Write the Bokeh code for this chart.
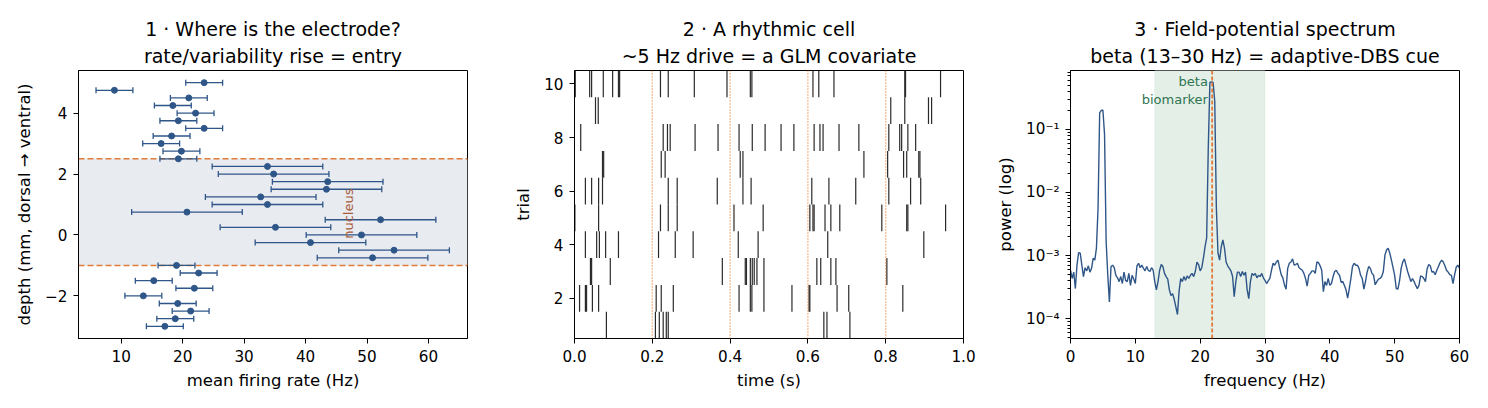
import numpy as np
from bokeh.plotting import figure
from bokeh.layouts import row
from bokeh.models import (ColumnDataSource, Whisker, TeeHead, BoxAnnotation, Span, Label, Title,
                          FixedTicker, Range1d, CustomJSTickFormatter, PrintfTickFormatter)
from bokeh.embed import file_html
from bokeh.resources import INLINE

FONT = "DejaVu Sans"
BLUE = "#2f5688"
ORANGE = "#e07b39"
DOT_ORANGE = "#e8731f"
TITLE_SIZE = "19px"
LABEL_SIZE = "16.5px"
TICK_SIZE = "15.2px"
NOTE_SIZE = "13px"

# ---------------- Panel 1 data ----------------
depth_mm = [5.0, 4.75, 4.5, 4.25, 4.0, 3.75, 3.5, 3.25, 3.0, 2.75, 2.5,
            2.25, 2.0, 1.75, 1.5, 1.25, 1.0, 0.75, 0.5, 0.25, 0.0, -0.25, -0.5, -0.75,
            -1.0, -1.25, -1.5, -1.75, -2.0, -2.25, -2.5, -2.75, -3.0]
rate_hz = [23.5, 8.9, 21.0, 18.4, 22.1, 19.3, 23.5, 18.2, 16.5, 19.8, 19.3,
           33.8, 34.8, 43.6, 43.4, 32.7, 33.8, 20.7, 52.2, 35.1, 49.1, 40.8, 54.4, 50.9,
           19.0, 22.6, 15.3, 21.9, 13.6, 19.2, 21.3, 18.8, 17.1]
rate_err = [3.0] * 11 + [9.0] * 13 + [3.0] * 9
nucleus_top = 2.5
nucleus_bottom = -1.0

# ---------------- Panel 2 data (spike times, s) ----------------
trial_1 = [0.082, 0.208, 0.218, 0.228, 0.236, 0.241, 0.641, 0.649, 0.708]
trial_2 = [0.013, 0.028, 0.031, 0.046, 0.062, 0.210, 0.223, 0.254, 0.423, 0.452, 0.456, 0.487,
           0.559, 0.603, 0.605, 0.675, 0.705, 0.844]
trial_3 = [0.041, 0.044, 0.092, 0.380, 0.439, 0.442, 0.452, 0.457, 0.462, 0.469, 0.487,
           0.623, 0.633, 0.659, 0.672, 0.803]
trial_4 = [0.028, 0.057, 0.064, 0.080, 0.113, 0.216, 0.259, 0.305, 0.421, 0.472, 0.651, 0.898]
trial_5 = [0.001, 0.062, 0.221, 0.241, 0.264, 0.410, 0.485, 0.605, 0.613, 0.616, 0.644, 0.659,
           0.682, 0.790, 0.854, 0.857, 0.954]
trial_6 = [0.028, 0.044, 0.062, 0.072, 0.241, 0.264, 0.367, 0.433, 0.454, 0.610, 0.654, 0.723,
           0.808, 0.864, 0.890]
trial_7 = [0.072, 0.075, 0.223, 0.233, 0.426, 0.433, 0.744, 0.805, 0.846, 0.854, 0.885, 0.888]
trial_8 = [0.016, 0.228, 0.239, 0.246, 0.310, 0.369, 0.423, 0.457, 0.490, 0.531, 0.564, 0.616,
           0.631, 0.639, 0.680, 0.731, 0.808, 0.836, 0.841, 0.857, 0.877]
trial_9 = [0.054, 0.061, 0.813, 0.849, 0.910, 0.918]
trial_10 = [0.002, 0.039, 0.044, 0.074, 0.098, 0.113, 0.116, 0.221, 0.241, 0.308, 0.392, 0.452,
            0.456, 0.613, 0.628, 0.667, 0.849, 0.851, 0.941]
trials = [trial_1, trial_2, trial_3, trial_4, trial_5, trial_6, trial_7, trial_8, trial_9, trial_10]
cycle_marks = [0.2, 0.4, 0.6, 0.8]

# ---------------- Panel 3 data ----------------
freq_hz = np.arange(0, 60.25, 0.25)
power_log10 = [
    -3.23, -3.36, -3.26, -3.52, -3.15, -2.95, -2.96, -3.15, -3.33, -3.19,
    -3.24, -3.16, -3.26, -3.20, -3.04, -3.07, -2.88, -2.25, -0.74, -0.70,
    -0.70, -1.08, -2.78, -3.31, -3.73, -3.17, -3.15, -3.19, -3.31, -3.35,
    -3.41, -3.33, -3.44, -3.26, -3.39, -3.41, -3.28, -3.47, -3.31, -3.37,
    -3.44, -3.16, -3.12, -3.19, -3.15, -3.20, -3.24, -3.17, -3.23, -3.25,
    -3.19, -3.23, -3.41, -3.54, -3.41, -3.23, -3.14, -3.17, -3.28, -3.33,
    -3.37, -3.54, -3.63, -3.60, -3.69, -3.81, -3.93, -3.56, -3.36, -3.41,
    -3.33, -3.39, -3.32, -3.36, -3.31, -3.28, -3.33, -3.25, -3.10, -3.14,
    -3.24, -3.19, -3.04, -2.86, -2.72, -1.30, -0.26, -0.25, -0.26, -0.56,
    -2.25, -2.96, -3.07, -2.86, -2.75, -2.88, -3.10, -3.16, -3.20, -3.24,
    -3.33, -3.65, -3.41, -3.26, -3.26, -3.33, -3.25, -3.31, -3.26, -3.54,
    -3.68, -3.41, -3.28, -3.31, -3.28, -3.35, -3.31, -3.33, -3.28, -3.35,
    -3.39, -3.44, -3.40, -3.36, -3.23, -3.12, -3.15, -3.10, -3.07, -3.19,
    -3.30, -3.35, -3.46, -3.53, -3.20, -3.12, -3.10, -3.05, -3.15, -3.14,
    -3.12, -3.19, -3.21, -3.23, -3.28, -3.36, -3.48, -3.31, -3.28, -3.24,
    -3.24, -3.28, -3.10, -3.11, -3.16, -3.23, -3.57, -3.41, -3.47, -3.36,
    -3.47, -3.44, -3.33, -3.25, -3.23, -3.28, -3.31, -3.42, -3.41, -3.47,
    -3.54, -3.67, -3.52, -3.36, -3.17, -3.12, -3.15, -3.15, -3.20, -3.31,
    -3.36, -3.53, -3.41, -3.26, -3.17, -3.20, -3.28, -3.31, -3.46, -3.41,
    -3.37, -3.36, -3.33, -3.25, -2.99, -2.91, -2.88, -2.96, -3.07, -3.19,
    -3.31, -3.52, -3.53, -3.40, -3.20, -3.10, -3.05, -3.15, -3.25, -3.33,
    -3.41, -3.36, -3.41, -3.47, -3.52, -3.47, -3.32, -3.33, -3.36, -3.41,
    -3.21, -3.14, -3.16, -3.26, -3.25, -3.30, -3.23, -3.17, -3.11, -3.07,
    -3.10, -3.16, -3.23, -3.26, -3.30, -3.31, -3.44, -3.30, -3.18, -3.15,
    -3.20]
beta_band = (13.0, 30.0)
beta_peak_hz = 21.85


def make_title(text, standoff):
    return Title(text=text, align="center", text_font=FONT, text_font_size=TITLE_SIZE,
                 text_font_style="normal", text_color="black", standoff=standoff)


def style(p, line1, line2):
    p.add_layout(make_title(line2, 7), "above")
    p.add_layout(make_title(line1, 0), "above")
    p.outline_line_color = "black"
    p.outline_line_width = 1
    p.outline_line_alpha = 1
    p.grid.visible = False
    p.background_fill_color = "white"
    p.border_fill_color = "white"
    for ax in p.axis:
        ax.axis_line_color = "black"
        ax.axis_line_width = 1
        ax.major_tick_line_color = "black"
        ax.major_tick_line_width = 1
        ax.major_tick_out = 5
        ax.major_tick_in = 0
        ax.minor_tick_line_color = None
        ax.major_label_text_font = FONT
        ax.major_label_text_font_size = TICK_SIZE
        ax.major_label_text_color = "black"
        ax.major_label_standoff = 6
        ax.axis_label_text_font = FONT
        ax.axis_label_text_font_size = LABEL_SIZE
        ax.axis_label_text_font_style = "normal"
        ax.axis_label_text_color = "black"
        ax.axis_label_standoff = 6
    for ax in p.yaxis:
        ax.axis_label_standoff = 8


common = dict(width=496, height=408, output_backend="svg", toolbar_location=None, title=None,
              min_border_left=78, min_border_right=29, min_border_top=70, min_border_bottom=70)

# ---------------- Panel 1 ----------------
p1 = figure(x_range=Range1d(3.05, 66.35), y_range=Range1d(-3.4, 5.4), **common)
style(p1, "1 · Where is the electrode?", "rate/variability rise = entry")
p1.xaxis.ticker = FixedTicker(ticks=[10, 20, 30, 40, 50, 60])
p1.yaxis.ticker = FixedTicker(ticks=[-2, 0, 2, 4])
p1.yaxis.major_label_overrides = {-2: "\u22122"}
p1.xaxis.axis_label = "mean firing rate (Hz)"
p1.yaxis.axis_label = "depth (mm, dorsal \u2192 ventral)"

p1.add_layout(BoxAnnotation(bottom=nucleus_bottom, top=nucleus_top, fill_color="#e8ebf0",
                            fill_alpha=1, line_color=None, level="underlay"))
for loc in (nucleus_top, nucleus_bottom):
    p1.add_layout(Span(location=loc, dimension="width", line_color=ORANGE, line_width=1.5,
                       line_dash="6 3", level="underlay"))

src1 = ColumnDataSource(dict(
    depth=depth_mm, rate=rate_hz,
    lower=[r - e for r, e in zip(rate_hz, rate_err)],
    upper=[r + e for r, e in zip(rate_hz, rate_err)]))
p1.add_layout(Whisker(base="depth", lower="lower", upper="upper", dimension="width", source=src1,
                      line_color=BLUE, line_width=1.3,
                      upper_head=TeeHead(size=6, line_color=BLUE, line_width=1.3),
                      lower_head=TeeHead(size=6, line_color=BLUE, line_width=1.3)))
p1.scatter("rate", "depth", source=src1, size=6, color=BLUE)
p1.add_layout(Label(x=47, y=0.7, text="nucleus", angle=np.pi / 2,
                    text_align="center", text_baseline="middle", text_color="#a85a3a",
                    text_font=FONT, text_font_size=NOTE_SIZE))

# ---------------- Panel 2 ----------------
p2 = figure(x_range=Range1d(0, 1), y_range=Range1d(0.5, 10.5), **common)
style(p2, "2 · A rhythmic cell", "~5 Hz drive = a GLM covariate")
p2.xaxis.ticker = FixedTicker(ticks=[0.0, 0.2, 0.4, 0.6, 0.8, 1.0])
p2.xaxis.formatter = PrintfTickFormatter(format="%.1f")
p2.yaxis.ticker = FixedTicker(ticks=[2, 4, 6, 8, 10])
p2.xaxis.axis_label = "time (s)"
p2.yaxis.axis_label = "trial"
for t in cycle_marks:
    p2.add_layout(Span(location=t, dimension="height", line_color=DOT_ORANGE, line_width=1.2,
                       line_dash="1 2"))
ts, y0, y1 = [], [], []
for i, tr in enumerate(trials, start=1):
    for t in tr:
        ts.append(t)
        y0.append(i - 0.5)
        y1.append(i + 0.5)
p2.segment(x0="t", y0="y0", x1="t", y1="y1", source=ColumnDataSource(dict(t=ts, y0=y0, y1=y1)),
           line_color="#2a2a2a", line_width=1.2)

# ---------------- Panel 3 ----------------
p3 = figure(x_range=Range1d(0, 60), y_range=Range1d(4.9e-5, 0.85), y_axis_type="log", **common)
style(p3, "3 · Field-potential spectrum", "beta (13\u201330 Hz) = adaptive-DBS cue")
p3.xaxis.ticker = FixedTicker(ticks=[0, 10, 20, 30, 40, 50, 60])
minor = [k * 10.0 ** e for e in range(-5, 0) for k in range(2, 10)]
p3.yaxis.ticker = FixedTicker(ticks=[1e-4, 1e-3, 1e-2, 1e-1], minor_ticks=minor)
p3.yaxis.minor_tick_line_color = "black"
p3.yaxis.minor_tick_out = 3
p3.yaxis.minor_tick_in = 0
p3.yaxis.formatter = CustomJSTickFormatter(code="""
const e = Math.round(Math.log10(tick));
const sup = {'-':'\\u207b','0':'\\u2070','1':'\\u00b9','2':'\\u00b2','3':'\\u00b3','4':'\\u2074',
             '5':'\\u2075','6':'\\u2076','7':'\\u2077','8':'\\u2078','9':'\\u2079'};
return '10' + String(e).split('').map(c => sup[c]).join('');
""")
p3.xaxis.axis_label = "frequency (Hz)"
p3.yaxis.axis_label = "power (log)"
p3.add_layout(BoxAnnotation(left=beta_band[0], right=beta_band[1], fill_color="#e3efe7", fill_alpha=1,
                            line_color="#c8e0d0", line_width=1, level="underlay"))
power = [10.0 ** v for v in power_log10]
p3.line(freq_hz, power, line_color=BLUE, line_width=1.4)
p3.add_layout(Span(location=beta_peak_hz, dimension="height", line_color=ORANGE, line_width=1.8,
                   line_dash="4 2"))
p3.add_layout(Label(x=21.2, y=0.76, text="beta\nbiomarker", text_align="right", text_baseline="top",
                    text_color="#2f7552", text_font=FONT, text_font_size=NOTE_SIZE))

layout = row(p1, p2, p3)
open("out.html", "w").write(file_html(layout, INLINE))
